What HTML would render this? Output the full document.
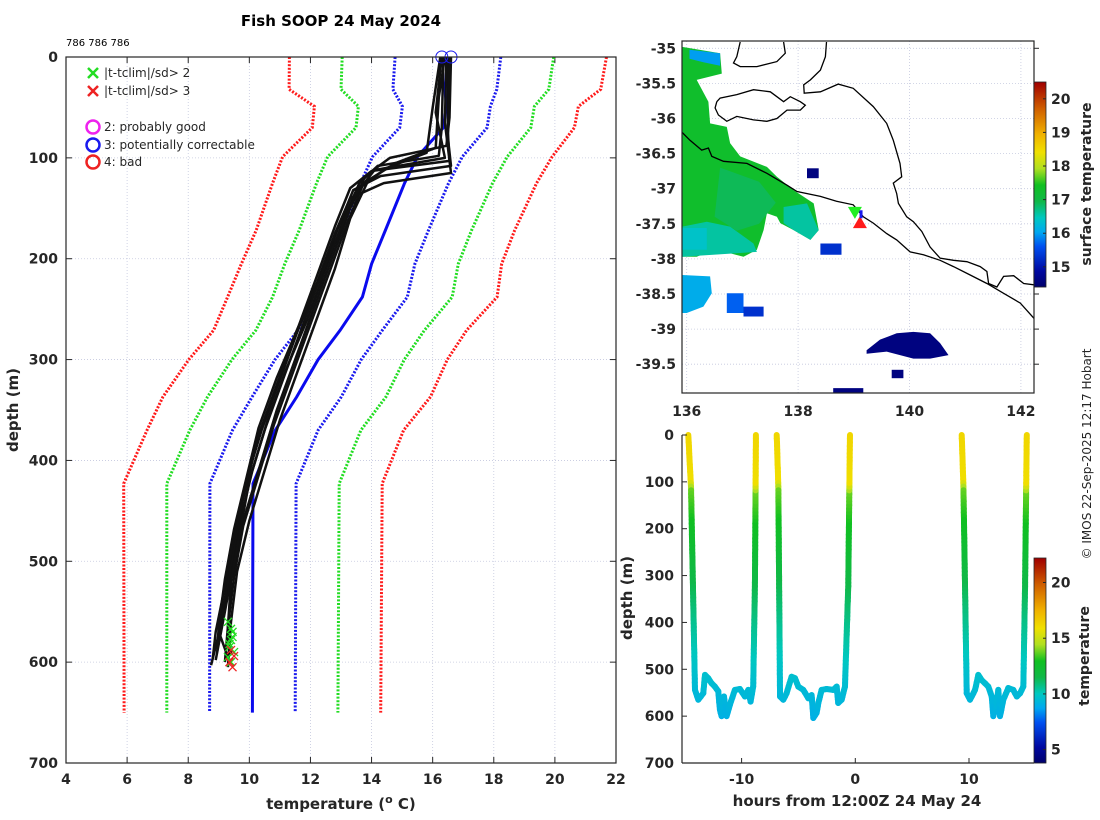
<!DOCTYPE html>
<html><head><meta charset="utf-8"><style>
html,body{margin:0;padding:0;background:#fff;}
svg{display:block;font-family:"DejaVu Sans","Liberation Sans",sans-serif;}
.tk{font-size:14px;font-weight:bold;fill:#262626;}
.lab{font-size:15px;font-weight:bold;fill:#262626;}
</style></head><body>
<svg id="fig" width="1100" height="820" viewBox="0 0 1100 820" xmlns="http://www.w3.org/2000/svg">
<defs>
<clipPath id="mapclip"><rect x="682" y="41" width="352" height="352"/></clipPath>
<clipPath id="leftclip"><rect x="66" y="45" width="550" height="718"/></clipPath>
</defs>
<text x="341" y="26" text-anchor="middle" font-size="15" font-weight="bold" fill="#000">Fish SOOP 24 May 2024</text>
<text x="66" y="46" font-size="10" fill="#000">786 786 786</text>
<g id="left"></g>
<g id="map"></g>
<g id="track"></g>
<text transform="translate(1091,454) rotate(-90)" text-anchor="middle" font-size="12" fill="#262626">© IMOS 22-Sep-2025 12:17 Hobart</text>
</svg>
<script>
// ---------- Left panel data ----------
const climDepth = [0,32,49,70,99,125,172,205,238,271,300,337,370,423,650];
const climMean  = [16.5,16.4,16.45,16.35,15.5,15.08,14.45,14.0,13.7,12.97,12.25,11.55,10.85,10.12,10.1];
const climSd    = [1.73,1.70,1.44,1.43,1.47,1.44,1.41,1.42,1.47,1.38,1.41,1.46,1.40,1.41,1.40];
const profDepths = [
 [0,70,98,108,125,160,210,260,310,360,410,460,510,560,603],
 [0,60,88,100,118,150,200,250,300,350,400,450,500,550,598],
 [0,80,108,118,132,170,220,270,320,370,420,470,520,570,595],
 [0,50,95,110,128,165,215,265,315,365,415,465,515,565,600],
 [0,75,103,113,130,168,218,268,318,368,418,468,518,563,590],
 [0,40,90,105,122,160,210,260,310,360,410,460,510,560,605],
 [0,65,115,125,140,175,225,275,325,375,425,475,525,570,597],
 [0,55,100,112,135,170,220,270,320,370,420,470,520,565,592]];
const profTemps = [
 [16.35,16.3,16.2,14.2,13.6,13.1,12.5,11.9,11.2,10.6,10.1,9.7,9.4,9.1,8.75],
 [16.6,16.55,16.45,14.6,13.8,13.3,12.7,12.1,11.5,10.9,10.4,9.9,9.5,9.2,8.9],
 [16.5,16.5,16.6,14.3,13.4,12.9,12.3,11.6,11.0,10.4,9.9,9.6,9.3,9.0,9.3],
 [16.25,16.0,15.8,14.5,13.7,13.2,12.6,12.0,11.4,10.8,10.3,9.8,9.5,9.3,9.2],
 [16.55,16.5,16.55,14.0,13.3,12.8,12.2,11.6,10.9,10.3,9.9,9.5,9.2,9.0,8.95],
 [16.4,16.2,16.1,14.8,13.9,13.3,12.8,12.2,11.6,11.0,10.5,10.0,9.6,9.4,9.3],
 [16.45,16.4,16.6,14.4,13.3,12.8,12.2,11.5,10.9,10.3,9.9,9.5,9.2,8.9,8.8],
 [16.3,16.1,16.4,14.1,13.5,13.0,12.3,11.7,11.1,10.5,10.0,9.7,9.4,9.3,9.4]];
const flag2T = [9.3,9.4,9.45,9.35,9.5,9.3,9.4,9.45,9.35,9.4];
const flag2D = [560,567,575,582,590,595,600,570,585,578];
const flag3T = [9.4,9.5,9.35,9.45];
const flag3D = [588,594,600,605];
const flagCircleT = [16.3,16.6];
const xTicks = [4,6,8,10,12,14,16,18,20,22];
const yTicks = [0,100,200,300,400,500,600,700];

// ---------- Map data ----------
const coastA = [[135.92,-36.20],[136.06,-36.31],[136.27,-36.45],[136.39,-36.42],[136.45,-36.54],[136.66,-36.61],[137.08,-36.64],[137.44,-36.78],[137.80,-36.95],[137.98,-37.04],[138.40,-37.11],[138.69,-37.18],[138.99,-37.23],[139.17,-37.40],[139.35,-37.49],[139.59,-37.64],[139.77,-37.73],[140.01,-37.90],[140.25,-37.94],[140.55,-38.02],[140.79,-38.11],[141.09,-38.23],[141.39,-38.35],[141.69,-38.49],[141.99,-38.63],[142.25,-38.86]];
const coastB = [[138.51,-34.91],[138.49,-35.12],[138.40,-35.31],[138.22,-35.45],[138.10,-35.52],[138.11,-35.64],[138.40,-35.62],[138.72,-35.51],[138.99,-35.57],[139.35,-35.83],[139.59,-36.07],[139.71,-36.31],[139.83,-36.64],[139.86,-36.83],[139.71,-36.92],[139.77,-37.07],[139.80,-37.21],[139.95,-37.40],[140.07,-37.47],[140.22,-37.61],[140.37,-37.83],[140.55,-37.99],[140.79,-38.02],[141.03,-38.04],[141.27,-38.11],[141.39,-38.18],[141.42,-38.35],[141.57,-38.40],[141.69,-38.25],[141.87,-38.24],[142.05,-38.35],[142.25,-38.37]];
const island = [[136.54,-35.76],[136.60,-35.71],[136.90,-35.66],[137.20,-35.59],[137.50,-35.62],[137.62,-35.69],[137.74,-35.76],[137.86,-35.69],[138.04,-35.76],[138.13,-35.81],[138.04,-35.88],[137.80,-35.88],[137.62,-36.0],[137.44,-36.04],[137.20,-36.02],[136.90,-35.97],[136.72,-36.04],[136.57,-35.95],[136.51,-35.85],[136.54,-35.76]];
const peninsula = [[136.96,-34.91],[136.90,-35.12],[136.84,-35.21],[136.96,-35.26],[137.26,-35.26],[137.62,-35.19],[137.77,-35.07],[137.74,-34.91]];
const sstPatches = [
 {sst:17.3, pts:[[135.92,-34.98],[136.60,-35.07],[136.63,-35.36],[136.18,-35.45],[136.39,-35.76],[136.42,-36.07],[136.72,-36.12],[136.78,-36.35],[136.96,-36.54],[137.44,-36.69],[137.62,-36.83],[137.92,-37.02],[138.28,-37.21],[138.37,-37.59],[138.22,-37.73],[137.92,-37.59],[137.68,-37.49],[137.62,-37.40],[137.44,-37.35],[137.38,-37.59],[137.26,-37.87],[137.02,-37.97],[136.78,-37.92],[136.48,-37.87],[136.18,-37.97],[135.92,-37.97]]},
 {sst:16.9, pts:[[136.6,-36.7],[137.3,-36.9],[137.6,-37.2],[137.3,-37.5],[136.9,-37.6],[136.5,-37.4]]},
 {sst:16.6, pts:[[135.92,-37.54],[136.36,-37.47],[136.78,-37.54],[137.20,-37.78],[137.26,-37.90],[135.92,-37.97]]},
 {sst:16.4, pts:[[135.92,-37.56],[136.36,-37.56],[136.36,-37.87],[135.92,-37.87]]},
 {sst:16.6, pts:[[137.74,-37.26],[138.16,-37.21],[138.37,-37.59],[138.22,-37.73],[137.92,-37.59],[137.74,-37.49]]},
 {sst:16.0, pts:[[136.05,-35.02],[136.6,-35.07],[136.6,-35.25],[136.3,-35.2],[136.05,-35.15]]},
 {sst:16.1, pts:[[135.92,-38.23],[136.42,-38.25],[136.45,-38.49],[136.30,-38.68],[136.0,-38.77],[135.92,-38.77]]},
 {sst:15.7, pts:[[136.72,-38.49],[137.02,-38.49],[137.02,-38.77],[136.72,-38.77]]},
 {sst:15.3, pts:[[137.02,-38.68],[137.38,-38.68],[137.38,-38.82],[137.02,-38.82]]},
 {sst:14.6, pts:[[139.23,-39.30],[139.47,-39.15],[139.77,-39.06],[140.07,-39.04],[140.37,-39.06],[140.55,-39.20],[140.70,-39.37],[140.37,-39.42],[140.07,-39.42],[139.83,-39.37],[139.59,-39.32],[139.23,-39.35]]},
 {sst:14.6, pts:[[139.68,-39.58],[139.89,-39.58],[139.89,-39.70],[139.68,-39.70]]},
 {sst:14.6, pts:[[138.63,-39.84],[139.17,-39.84],[139.17,-39.93],[138.63,-39.93]]},
 {sst:14.6, pts:[[138.16,-36.71],[138.37,-36.71],[138.37,-36.85],[138.16,-36.85]]},
 {sst:15.3, pts:[[138.40,-37.78],[138.78,-37.78],[138.78,-37.94],[138.40,-37.94]]}];
const lonTicks = [136,138,140,142];
const latTicks = [-35,-35.5,-36,-36.5,-37,-37.5,-38,-38.5,-39,-39.5];
const sstTicks = [15,16,17,18,19,20];

// ---------- Track panel data ----------
const trackHours = [
 [-14.69,-14.45,-14.1,-13.81,-13.37,-13.22,-12.93,-12.64,-12.35,-12.05,-11.91,-11.76,-11.55,-11.32,-11.03,-10.59,-10.15,-9.71,-9.41,-9.21,-8.98,-8.83,-8.74],
 [-6.91,-6.77,-6.62,-6.33,-6.04,-5.6,-5.3,-5.01,-4.57,-4.13,-3.84,-3.69,-3.4,-3.25,-2.96,-2.52,-1.94,-1.64,-1.5,-1.2,-0.91,-0.62,-0.47],
 [9.36,9.51,9.8,10.09,10.53,10.82,11.12,11.41,11.7,12.0,12.14,12.38,12.58,12.73,13.02,13.46,13.9,14.2,14.49,14.78,14.93,15.08]];
const trackDepths = [
 [0,110,544,565,551,512,519,530,537,547,586,600,558,600,576,544,542,558,544,569,537,323,0],
 [0,110,558,565,551,516,519,537,544,562,555,604,593,572,544,542,544,537,572,565,537,323,0],
 [0,110,551,565,544,512,523,530,537,558,600,579,544,600,565,540,544,558,551,537,323,0]];
const tempProfD = [0,100,120,200,300,400,500,600];
const tempProfT = [16.3,16.0,13.8,12.8,11.7,10.7,9.8,9.1];
const hourTicks = [-10,0,10];
const tempTicks = [5,10,15,20];

// ---------- helpers ----------
const NS = 'http://www.w3.org/2000/svg';
function mk(parent, tag, attrs){ const e=document.createElementNS(NS,tag); for(const k in attrs) e.setAttribute(k,attrs[k]); parent.appendChild(e); return e; }
function interp(xs, ys, x){ if(x<=xs[0]) return ys[0]; for(let i=1;i<xs.length;i++){ if(x<=xs[i]){ const f=(x-xs[i-1])/(xs[i]-xs[i-1]); return ys[i-1]+f*(ys[i]-ys[i-1]); } } return ys[ys.length-1]; }
const cmapStops=[[0,[0,0,106]],[0.08,[0,8,160]],[0.2,[0,80,240]],[0.27,[0,168,240]],[0.34,[0,200,192]],[0.42,[16,184,72]],[0.5,[16,192,32]],[0.58,[176,224,32]],[0.66,[240,224,0]],[0.75,[240,176,0]],[0.87,[208,96,0]],[1,[160,0,0]]];
function cmap(n){ n=Math.max(0,Math.min(1,n)); for(let i=1;i<cmapStops.length;i++){ if(n<=cmapStops[i][0]){ const a=cmapStops[i-1],b=cmapStops[i]; const f=(n-a[0])/(b[0]-a[0]); const c=a[1].map((v,k)=>Math.round(v+f*(b[1][k]-v))); return 'rgb('+c.join(',')+')'; } } return 'rgb(160,0,0)'; }
const GRID='#c4c8de';

// ---------- Left panel ----------
(function(){
 const g=document.getElementById('left');
 const L=66,R=616,T=57,B=763;
 const xT=t=>L+(t-4)*(R-L)/18, yD=d=>T+d*(B-T)/700;
 xTicks.forEach(t=>{ const gl=mk(g,'line',{x1:xT(t),x2:xT(t),y1:T,y2:B,stroke:GRID,'stroke-width':0.8,'stroke-dasharray':'1,2'});
   
  const tl=mk(g,'text',{x:xT(t),y:B+21,'text-anchor':'middle',class:'tk'}); tl.textContent=t;
   
  mk(g,'line',{x1:xT(t),x2:xT(t),y1:B,y2:B-6,stroke:'#262626','stroke-width':1}); mk(g,'line',{x1:xT(t),x2:xT(t),y1:T,y2:T+6,stroke:'#262626','stroke-width':1}); });
 yTicks.forEach(d=>{ const gl=mk(g,'line',{x1:L,x2:R,y1:yD(d),y2:yD(d),stroke:GRID,'stroke-width':0.8,'stroke-dasharray':'1,2'});
   
  const tl=mk(g,'text',{x:L-8,y:yD(d)+5,'text-anchor':'end',class:'tk'}); tl.textContent=d;
   
  mk(g,'line',{x1:L,x2:L+6,y1:yD(d),y2:yD(d),stroke:'#262626','stroke-width':1}); mk(g,'line',{x1:R,x2:R-6,y1:yD(d),y2:yD(d),stroke:'#262626','stroke-width':1}); });
 const pg=mk(g,'g',{'clip-path':'url(#leftclip)'});
 const bands=[[3,'#ff1a1a'],[2,'#22dd22'],[1,'#1a1aee']];
 bands.forEach(([k,c])=>{ [-1,1].forEach(s=>{ const pts=climDepth.map((d,i)=>xT(climMean[i]+s*k*climSd[i]).toFixed(1)+','+yD(d).toFixed(1)).join(' ');
  const pl=mk(pg,'polyline',{points:pts,fill:'none',stroke:c,'stroke-width':3,'stroke-dasharray':'2,1.6'});
    }); });
 const mpl=mk(pg,'polyline',{points:climDepth.map((d,i)=>xT(climMean[i]).toFixed(1)+','+yD(d).toFixed(1)).join(' '),fill:'none',stroke:'#0a0aee','stroke-width':3});
  
 profDepths.forEach((ds,p)=>{ const pl=mk(pg,'polyline',{points:ds.map((d,i)=>xT(profTemps[p][i]).toFixed(1)+','+yD(d).toFixed(1)).join(' '),fill:'none',stroke:'#111','stroke-width':2.5,'stroke-linejoin':'round'});
    });
 function cross(x,y,c,r){ const pth=mk(pg,'path',{d:`M${x-r},${y-r}L${x+r},${y+r}M${x-r},${y+r}L${x+r},${y-r}`,stroke:c,'stroke-width':1.3,fill:'none'}); return pth; }
 flag2T.forEach((t,i)=>{ const c=cross(xT(t),yD(flag2D[i]),'#22dd22',4);   });
 flag3T.forEach((t,i)=>{ const c=cross(xT(t),yD(flag3D[i]),'#ee2222',4);   });
 flagCircleT.forEach(t=>{ const c=mk(g,'circle',{cx:xT(t),cy:yD(0),r:6,fill:'none',stroke:'#1a1aee','stroke-width':1});
    });
 const box=mk(g,'rect',{x:L,y:T,width:R-L,height:B-T,fill:'none',stroke:'#262626','stroke-width':1.2});
  
 const lg=mk(g,'g',{'font-size':12,fill:'#262626'});
  
 const lx=93;
 [[73,'#22dd22','|t-tclim|/sd> 2'],[91,'#ee2222','|t-tclim|/sd> 3']].forEach(([y,c,t])=>{ mk(lg,'path',{d:`M${lx-5},${y-5}L${lx+5},${y+5}M${lx-5},${y+5}L${lx+5},${y-5}`,stroke:c,'stroke-width':2.5});
  const tx=mk(lg,'text',{x:lx+11,y:y+4}); tx.textContent=t;   });
 [[127,'#ee22ee','2: probably good'],[145,'#1a1aee','3: potentially correctable'],[162,'#ee2222','4: bad']].forEach(([y,c,t])=>{ mk(lg,'circle',{cx:lx,cy:y,r:6.5,fill:'none',stroke:c,'stroke-width':2.5});
  const tx=mk(lg,'text',{x:lx+11,y:y+4}); tx.textContent=t;   });
 const xl=mk(g,'text',{x:341,y:809,'text-anchor':'middle',class:'lab'}); xl.innerHTML='temperature (<tspan dy="-6" font-size="11">o</tspan><tspan dy="6"> C)</tspan>';
  
 const yl=mk(g,'text',{transform:'translate(18,410) rotate(-90)','text-anchor':'middle',class:'lab'}); yl.textContent='depth (m)';
  
})();

// ---------- Map panel ----------
(function(){
 const g=document.getElementById('map');
 const L=682,R=1034,T=41,B=393;
 const xL=lon=>686.7+(lon-136)*55.7, yL=lat=>48.3+(-35-lat)*70.2;
 lonTicks.forEach(v=>{ const gl=mk(g,'line',{x1:xL(v),x2:xL(v),y1:T,y2:B,stroke:GRID,'stroke-width':0.8,'stroke-dasharray':'1,2'});
   
  const tl=mk(g,'text',{x:xL(v),y:B+23,'text-anchor':'middle',class:'tk'}); tl.textContent=v;
    });
 latTicks.forEach(v=>{ const gl=mk(g,'line',{x1:L,x2:R,y1:yL(v),y2:yL(v),stroke:GRID,'stroke-width':0.8,'stroke-dasharray':'1,2'});
   
  const tl=mk(g,'text',{x:L-6,y:yL(v)+5,'text-anchor':'end',class:'tk'}); tl.textContent=v;
   
  mk(g,'line',{x1:R,x2:R+5,y1:yL(v),y2:yL(v),stroke:'#262626','stroke-width':1}); });
 const cg=mk(g,'g',{'clip-path':'url(#mapclip)'});
 const smin=14.4,smax=20.5;
 sstPatches.forEach(p=>{ const pl=mk(cg,'polygon',{points:p.pts.map(q=>xL(q[0]).toFixed(1)+','+yL(q[1]).toFixed(1)).join(' '),fill:cmap((p.sst-smin)/(smax-smin))});
    });
 [[coastA,'shelf-line'],[coastB,'coastline'],[island,'island-coast'],[peninsula,'peninsula-coast']].forEach(([arr,n])=>{
  const pl=mk(cg,'polyline',{points:arr.map(q=>xL(q[0]).toFixed(1)+','+yL(q[1]).toFixed(1)).join(' '),fill:'none',stroke:'#000','stroke-width':1.3});
    });
 const gx=xL(139.02),gy=yL(-37.33);
 const t1=mk(cg,'polygon',{points:`${gx-7},${gy-5} ${gx+7},${gy-5} ${gx},${gy+7}`,fill:'#22ee22'});  
 const rx=xL(139.11),ry=yL(-37.49);
 const t2=mk(cg,'polygon',{points:`${rx-7},${ry+5} ${rx+7},${ry+5} ${rx},${ry-7}`,fill:'#ff1a1a'});  
 const t3=mk(cg,'rect',{x:xL(139.13)-1.5,y:yL(-37.35)-3,width:3,height:8,fill:'#1a1aee'});  
 const box=mk(g,'rect',{x:L,y:T,width:R-L,height:B-T,fill:'none',stroke:'#262626','stroke-width':1.2});
  
 const cT=82,cB=287,cL=1034,cW=12;
 for(let y=cT;y<cB;y++){ mk(g,'rect',{x:cL,y:y,width:cW,height:1.2,fill:cmap((cB-y)/(cB-cT))}); }
 const cbf=mk(g,'rect',{x:cL,y:cT,width:cW,height:cB-cT,fill:'none',stroke:'#262626','stroke-width':0.8});
  
 sstTicks.forEach(v=>{ const y=cB-(v-smin)/(smax-smin)*(cB-cT);
  mk(g,'line',{x1:cL+cW-3,x2:cL+cW,y1:y,y2:y,stroke:'#262626'});
  const tl=mk(g,'text',{x:cL+cW+5,y:y+5,class:'tk'}); tl.textContent=v;
    });
 const cl=mk(g,'text',{transform:'translate(1091,184) rotate(-90)','text-anchor':'middle',class:'tk'}); cl.textContent='surface temperature';
  
})();

// ---------- Track panel ----------
(function(){
 const g=document.getElementById('track');
 const L=682,R=1034,T=435,B=763;
 const xH=h=>855.3+h*11.37, yD=d=>T+d*(B-T)/700;
 const tmin=3.8,tmax=22.2;
 trackHours.forEach((hs,k)=>{ const tg=mk(g,'g',{});
   
  for(let i=1;i<hs.length;i++){ const d0=trackDepths[k][i-1],d1=trackDepths[k][i]; const n=Math.max(1,Math.ceil(Math.abs(d1-d0)/8));
   for(let j=0;j<n;j++){ const a=j/n,b=(j+1)/n; const h0=hs[i-1]+a*(hs[i]-hs[i-1]),h1=hs[i-1]+b*(hs[i]-hs[i-1]);
    const da=d0+a*(d1-d0),db=d0+b*(d1-d0); const t=interp(tempProfD,tempProfT,(da+db)/2);
    mk(tg,'line',{x1:xH(h0).toFixed(1),y1:yD(da).toFixed(1),x2:xH(h1).toFixed(1),y2:yD(db).toFixed(1),stroke:cmap((t-tmin)/(tmax-tmin)),'stroke-width':6,'stroke-linecap':'round'}); } } });
 mk(g,'line',{x1:L,x2:L,y1:T,y2:B,stroke:'#262626','stroke-width':1.2});
 mk(g,'line',{x1:L,x2:R,y1:B,y2:B,stroke:'#262626','stroke-width':1.2});
 yTicks.forEach(d=>{ mk(g,'line',{x1:L,x2:L+5,y1:yD(d),y2:yD(d),stroke:'#262626'});
  const tl=mk(g,'text',{x:L-8,y:yD(d)+5,'text-anchor':'end',class:'tk'}); tl.textContent=d;
    });
 hourTicks.forEach(h=>{ mk(g,'line',{x1:xH(h),x2:xH(h),y1:B,y2:B-5,stroke:'#262626'});
  const tl=mk(g,'text',{x:xH(h),y:B+21,'text-anchor':'middle',class:'tk'}); tl.textContent=h;
    });
 const xl=mk(g,'text',{x:857,y:806,'text-anchor':'middle',class:'lab'}); xl.textContent='hours from 12:00Z 24 May 24';
  
 const yl=mk(g,'text',{transform:'translate(632,598) rotate(-90)','text-anchor':'middle',class:'lab'}); yl.textContent='depth (m)';
  
 const cT=558,cB=763,cL=1034,cW=12;
 for(let y=cT;y<cB;y++){ mk(g,'rect',{x:cL,y:y,width:cW,height:1.2,fill:cmap((cB-y)/(cB-cT))}); }
 const cbf=mk(g,'rect',{x:cL,y:cT,width:cW,height:cB-cT,fill:'none',stroke:'#262626','stroke-width':0.8});
  
 tempTicks.forEach(v=>{ const y=cB-(v-tmin)/(tmax-tmin)*(cB-cT);
  mk(g,'line',{x1:cL+cW-3,x2:cL+cW,y1:y,y2:y,stroke:'#262626'});
  const tl=mk(g,'text',{x:cL+cW+5,y:y+5,class:'tk'}); tl.textContent=v;
    });
 const cl=mk(g,'text',{transform:'translate(1089,656) rotate(-90)','text-anchor':'middle',class:'tk'}); cl.textContent='temperature';
  
})();
</script>
</body></html>
